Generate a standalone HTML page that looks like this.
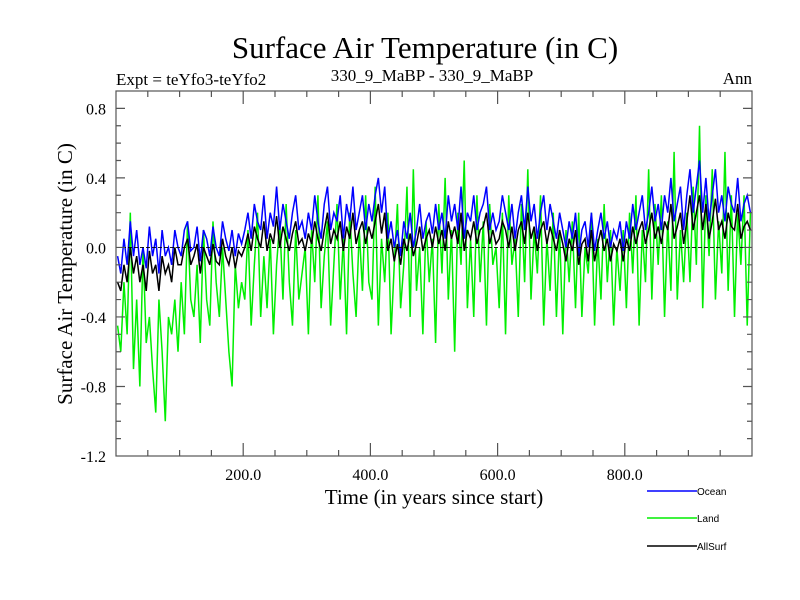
<!DOCTYPE html>
<html><head><meta charset="utf-8"><style>
body{margin:0;background:#fff}
svg{display:block;font-family:"Liberation Serif",serif}
</style></head><body>
<svg id="chart" width="800" height="600" viewBox="0 0 800 600">
<text x="425" y="58" font-size="31" text-anchor="middle">Surface Air Temperature (in C)</text>
<text x="116" y="85" font-size="17">Expt = teYfo3-teYfo2</text>
<text x="432" y="81" font-size="17" text-anchor="middle">330_9_MaBP - 330_9_MaBP</text>
<text x="752" y="84" font-size="17" text-anchor="end">Ann</text>
<text transform="translate(72,274) rotate(-90)" font-size="21" text-anchor="middle">Surface Air Temperature (in C)</text>
<text x="434" y="504" font-size="21" text-anchor="middle">Time (in years since start)</text>
<g id="series"></g>
<g id="axes"></g>
<g font-family="Liberation Sans,sans-serif" font-size="10">
<line x1="647" y1="491" x2="697" y2="491" stroke="#0000ff" stroke-width="1.5"/><text x="697" y="495">Ocean</text>
<line x1="647" y1="518" x2="697" y2="518" stroke="#00ee00" stroke-width="1.5"/><text x="697" y="522">Land</text>
<line x1="647" y1="546" x2="697" y2="546" stroke="#000" stroke-width="1.5"/><text x="697" y="550">AllSurf</text>
</g>
</svg>
<script>
const years = Array.from({length:200},(_, i)=>i*5+2.5);
const ocean = [-0.05,-0.15,0.05,-0.1,0.15,-0.05,0.1,-0.1,0.0,-0.12,0.12,-0.05,0.05,-0.15,0.1,-0.05,0.0,-0.1,0.1,0.0,
-0.05,0.1,0.15,-0.02,0.0,0.12,-0.08,0.1,0.05,-0.05,0.12,0.0,-0.05,0.15,0.05,-0.02,0.1,-0.05,0.08,0.02,
0.1,0.2,0.05,0.25,0.15,0.1,0.3,0.05,0.2,0.12,0.35,0.1,0.25,0.15,0.05,0.2,0.3,0.1,0.15,0.05,
0.2,0.1,0.3,0.15,0.05,0.25,0.35,0.1,0.2,0.15,0.3,0.05,0.25,0.15,0.35,0.1,0.2,0.3,0.1,0.25,
0.15,0.3,0.4,0.2,0.35,0.05,0.15,0.0,0.1,-0.05,0.15,0.05,0.2,0.0,0.1,0.25,0.05,0.15,0.2,0.08,
0.25,0.1,0.2,0.05,0.3,0.15,0.25,0.1,0.35,0.05,0.2,0.15,0.3,0.1,0.2,0.25,0.35,0.1,0.2,0.1,
0.15,0.3,0.2,0.1,0.25,0.05,0.2,0.3,0.1,0.35,0.15,0.25,0.05,0.2,0.3,0.1,0.25,0.15,0.05,0.2,
0.1,0.0,0.15,0.05,0.2,-0.05,0.1,0.15,0.0,0.2,-0.02,0.1,0.2,0.05,0.15,0.0,0.1,0.05,0.15,-0.02,
0.15,0.05,0.25,0.1,0.2,0.3,0.1,0.2,0.35,0.15,0.25,0.1,0.3,0.2,0.4,0.15,0.25,0.35,0.1,0.3,
0.45,0.2,0.35,0.5,0.2,0.4,0.15,0.3,0.45,0.2,0.3,0.15,0.35,0.25,0.2,0.4,0.15,0.25,0.3,0.2];
const land = [-0.45,-0.6,-0.2,-0.5,0.2,-0.7,-0.3,-0.8,0.0,-0.55,-0.4,-0.7,-0.95,-0.3,-0.6,-1.0,-0.4,-0.5,-0.3,-0.6,
-0.2,-0.5,0.15,-0.3,-0.4,-0.1,-0.55,0.1,-0.3,-0.45,0.15,-0.2,-0.4,0.0,-0.3,-0.6,-0.8,-0.1,-0.35,-0.2,
-0.3,0.1,-0.45,-0.1,0.2,-0.4,-0.05,-0.35,0.05,-0.5,-0.1,0.15,-0.3,0.25,-0.2,-0.45,0.1,-0.3,-0.15,0.0,
-0.5,0.1,-0.2,0.3,-0.35,-0.05,0.15,-0.45,-0.1,0.25,-0.3,0.05,-0.5,0.2,-0.15,-0.4,0.1,-0.25,0.3,-0.2,
-0.3,0.35,-0.45,0.05,-0.2,0.2,-0.5,-0.1,0.25,-0.35,-0.1,0.35,-0.4,0.45,-0.25,0.0,-0.5,0.15,-0.2,0.05,
-0.55,0.25,-0.15,0.4,-0.3,0.1,-0.6,0.2,-0.1,0.5,-0.35,0.05,-0.4,0.3,-0.2,0.15,-0.45,0.25,-0.1,0.0,
-0.35,0.2,-0.5,0.3,-0.1,0.05,-0.4,0.25,-0.2,0.45,-0.3,0.1,-0.15,0.3,-0.45,0.05,-0.25,0.2,-0.4,0.1,
-0.5,0.1,-0.2,0.15,-0.35,0.2,-0.4,0.0,-0.15,0.2,-0.45,0.05,-0.3,0.25,-0.2,0.1,-0.45,0.0,-0.25,0.1,
-0.35,0.2,-0.15,0.3,-0.45,0.1,-0.2,0.45,-0.3,0.25,-0.1,0.3,-0.4,0.15,-0.25,0.55,-0.3,0.1,-0.2,0.2,
-0.2,0.35,-0.1,0.7,-0.35,0.3,-0.05,0.45,-0.3,0.15,-0.15,0.55,-0.25,0.3,-0.4,0.2,-0.1,0.3,-0.45,0.2];
const allsurf = [-0.2,-0.25,-0.1,-0.2,0.0,-0.15,-0.05,-0.2,-0.1,-0.25,-0.02,-0.15,-0.1,-0.25,-0.05,-0.15,-0.1,-0.2,0.0,-0.1,
-0.1,0.0,0.05,-0.1,-0.05,0.02,-0.15,0.0,-0.05,-0.1,0.02,-0.08,-0.1,0.05,-0.05,-0.1,0.0,-0.12,-0.02,-0.05,
0.0,0.08,-0.02,0.12,0.05,0.0,0.15,-0.02,0.08,0.02,0.18,0.0,0.12,0.05,-0.02,0.08,0.15,0.02,0.05,-0.02,
0.08,0.02,0.15,0.05,-0.02,0.1,0.2,0.02,0.1,0.05,0.15,-0.02,0.12,0.05,0.2,0.02,0.1,0.15,0.02,0.12,
0.05,0.15,0.25,0.08,0.2,-0.02,0.05,-0.08,0.02,-0.1,0.05,-0.02,0.08,-0.05,0.02,0.12,-0.02,0.05,0.1,0.0,
0.12,0.02,0.1,-0.02,0.15,0.05,0.12,0.02,0.2,-0.02,0.1,0.05,0.15,0.02,0.1,0.12,0.2,0.02,0.1,0.02,
0.05,0.15,0.1,0.0,0.12,-0.02,0.1,0.15,0.02,0.2,0.05,0.12,-0.02,0.1,0.15,0.02,0.12,0.05,-0.02,0.1,
0.02,-0.08,0.05,-0.02,0.1,-0.1,0.02,0.05,-0.08,0.1,-0.08,0.02,0.1,-0.02,0.05,-0.08,0.02,-0.02,0.05,-0.08,
0.05,-0.02,0.12,0.02,0.1,0.15,0.02,0.1,0.2,0.05,0.12,0.02,0.15,0.1,0.25,0.05,0.12,0.2,0.02,0.15,
0.3,0.1,0.2,0.3,0.1,0.25,0.05,0.15,0.28,0.1,0.15,0.05,0.2,0.12,0.1,0.25,0.05,0.12,0.15,0.1];
const yTicks = [0.8,0.4,0.0,-0.4,-0.8,-1.2];
const xTicks = [200,400,600,800];
const L=116,R=752,T=91,B=456;
const X=v=>L+(v/1000)*(R-L);
const Y=v=>B-((v+1.2)/2.1)*(B-T);
const NS='http://www.w3.org/2000/svg';
const mk=(tag,parent)=>{const e=document.createElementNS(NS,tag);parent.appendChild(e);return e;};
const sg=document.getElementById('series'), ax=document.getElementById('axes');
function line(arr,color,name){
  const p=mk('polyline',sg);
  
  
  p.setAttribute('points',arr.map((v,i)=>X(years[i])+','+Y(v)).join(' '));
  p.setAttribute('fill','none');p.setAttribute('stroke',color);p.setAttribute('stroke-width','1.5');
}
line(land,'#00ee00','land-series');
line(ocean,'#0000ff','ocean-series');
line(allsurf,'#000000','allsurf-series');
const zl=mk('line',ax);


zl.setAttribute('x1',L);zl.setAttribute('x2',R);zl.setAttribute('y1',Y(0));zl.setAttribute('y2',Y(0));zl.setAttribute('stroke','#000');zl.setAttribute('stroke-dasharray','4,2');zl.setAttribute('stroke-width','0.8');
const box=mk('rect',ax);


box.setAttribute('x',L);box.setAttribute('y',T);box.setAttribute('width',R-L);box.setAttribute('height',B-T);box.setAttribute('fill','none');box.setAttribute('stroke','#555');box.setAttribute('stroke-width','1.2');
let d='';
for(let v=-1.1;v<0.85;v+=0.1){const y=Y(v);const maj=yTicks.some(t=>Math.abs(t-v)<1e-6);const len=maj?9:5;d+=`M${L},${y}h${len}M${R},${y}h${-len}`;}
for(let v=50;v<1000;v+=50){const x=X(v);const len=v%200===0?13:6;d+=`M${x},${B}v${-len}M${x},${T}v${len}`;}
const tk=mk('path',ax);


tk.setAttribute('d',d);tk.setAttribute('stroke','#555');tk.setAttribute('stroke-width','1.2');
yTicks.forEach(v=>{const t=mk('text',ax);


t.setAttribute('x',L-10);t.setAttribute('y',Y(v)+6);t.setAttribute('text-anchor','end');t.setAttribute('font-size','16');t.textContent=v.toFixed(1);});
xTicks.forEach(v=>{const t=mk('text',ax);


t.setAttribute('x',X(v));t.setAttribute('y',B+24);t.setAttribute('text-anchor','middle');t.setAttribute('font-size','16');t.textContent=v.toFixed(1);});
</script>
</body></html>
